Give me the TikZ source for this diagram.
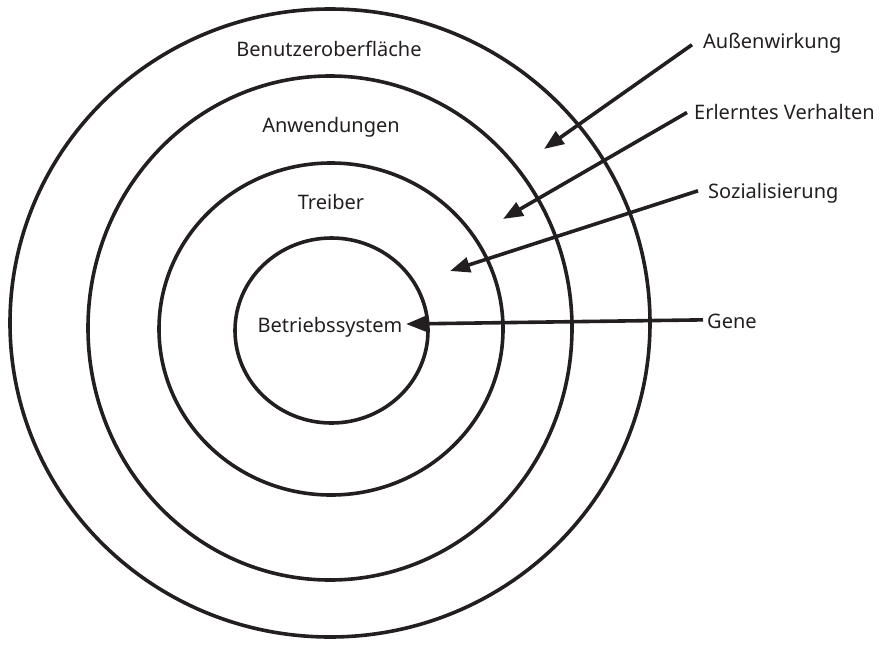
\documentclass[tikz,border=0pt]{standalone}
\usepackage{fontspec}
\setmainfont{Noto Sans}
\usetikzlibrary{shapes.geometric,arrows.meta}
\definecolor{ink}{HTML}{231F20}
\begin{document}
\begin{tikzpicture}[x=1pt,y=-1pt,
  ring/.style={draw=ink, line width=3.6pt, ellipse, inner sep=0pt, outer sep=0pt},
  lbl/.style={text=ink, font=\fontsize{20}{24}\selectfont, inner sep=0pt},
  arr/.style={draw=ink, line width=3.6pt, -{Triangle[length=20pt,width=15pt]}}]
\useasboundingbox (0,0) rectangle (889,648);
% rings
\node[ring, minimum width=640pt, minimum height=628pt] (r4) at (330,323) {};
\node[ring, minimum width=484pt, minimum height=504pt] (r3) at (330,328) {};
\node[ring, minimum width=344pt, minimum height=332pt] (r2) at (331,329) {};
\node[ring, minimum width=193pt, minimum height=185pt] (r1) at (331.5,330.5) {};
% ring labels
\node[lbl, anchor=base] (l4) at (329,56) {Benutzeroberfläche};
\node[lbl, anchor=base] (l3) at (331,132) {Anwendungen};
\node[lbl, anchor=base] (l2) at (331,209) {Treiber};
\node[lbl, anchor=base] (l1) at (330,332) {Betriebssystem};
% influence labels
\node[lbl, anchor=base west] (aw) at (703,48) {Außenwirkung};
\node[lbl, anchor=base west] (ev) at (694,119) {Erlerntes Verhalten};
\node[lbl, anchor=base west] (so) at (708,198) {Sozialisierung};
\node[lbl, anchor=base west] (ge) at (707,328) {Gene};
% arrow tips
\coordinate (t1) at (544,149);
\coordinate (t2) at (503,219);
\coordinate (t3) at (450,271);
\coordinate (t4) at (406,324);
% arrows
\draw[arr] ([shift={(-11,2)}]aw.west) -- (t1);
\draw[arr] ([shift={(-7,1)}]ev.west) -- (t2);
\draw[arr] ([shift={(-10,-2)}]so.west) -- (t3);
\draw[arr] ([shift={(-4,-1)}]ge.west) -- (t4);
\end{tikzpicture}
\end{document}
